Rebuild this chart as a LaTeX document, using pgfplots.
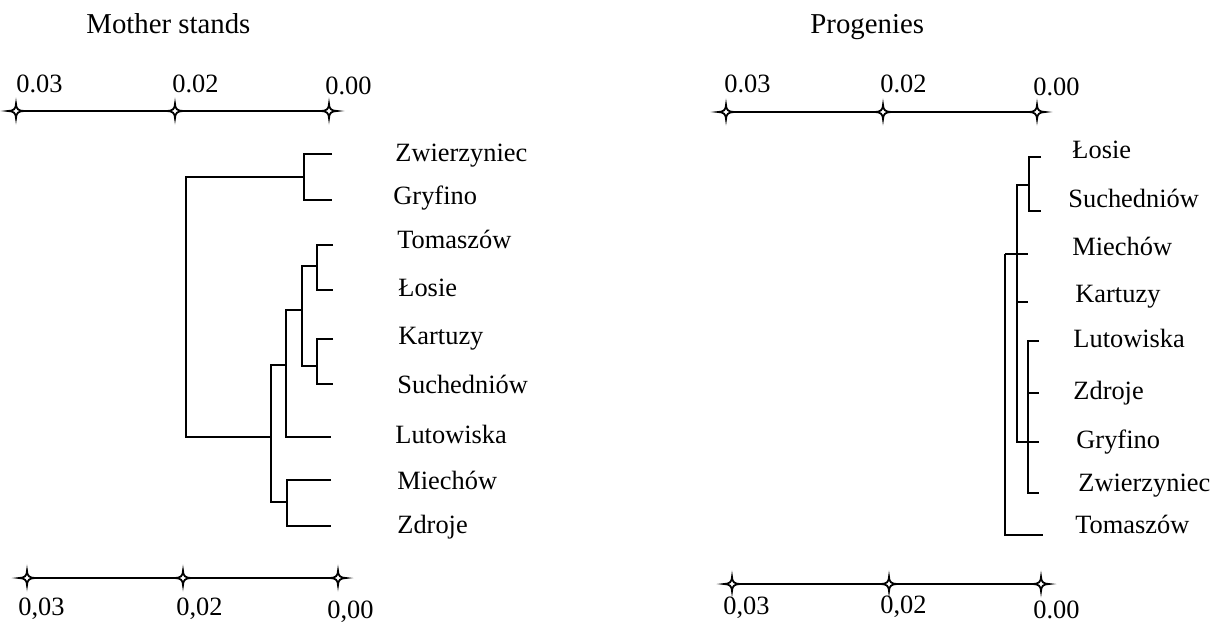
\documentclass[border=0pt]{standalone}
\usepackage{fontspec}
\setmainfont{Liberation Serif}
\usepackage{pgfplots}
\pgfplotsset{compat=1.18}
\pgfdeclareplotmark{spark}{%
  \pgfpathmoveto{\pgfqpoint{\pgfplotmarksize}{0pt}}%
  \pgfpathcurveto{\pgfqpoint{0.3\pgfplotmarksize}{0pt}}{\pgfqpoint{0pt}{0.3\pgfplotmarksize}}{\pgfqpoint{0pt}{0.9\pgfplotmarksize}}%
  \pgfpathcurveto{\pgfqpoint{0pt}{0.3\pgfplotmarksize}}{\pgfqpoint{-0.3\pgfplotmarksize}{0pt}}{\pgfqpoint{-\pgfplotmarksize}{0pt}}%
  \pgfpathcurveto{\pgfqpoint{-0.3\pgfplotmarksize}{0pt}}{\pgfqpoint{0pt}{-0.3\pgfplotmarksize}}{\pgfqpoint{0pt}{-0.9\pgfplotmarksize}}%
  \pgfpathcurveto{\pgfqpoint{0pt}{-0.3\pgfplotmarksize}}{\pgfqpoint{0.3\pgfplotmarksize}{0pt}}{\pgfqpoint{\pgfplotmarksize}{0pt}}%
  \pgfpathclose
  \pgfusepathqfillstroke
}
\begin{document}
\begin{tikzpicture}
\begin{axis}[scale only axis, width=606.5pt, height=313pt,
  xmin=0, xmax=1213, ymin=0, ymax=626, y dir=reverse,
  hide axis, clip=false,
  dl/.style={black, line width=1pt, mark=none, solid},
  scalebar/.style={black, line width=1pt, solid, mark=spark, mark size=4pt,
    mark options={fill=white, draw=black, line width=0.9pt}}]
\path (rel axis cs:0,0) rectangle (rel axis cs:1,1);
% ---------- Left dendrogram (Mother stands)
\addplot[dl] coordinates {(332,154) (304,154) (304,200) (332,200)};
\addplot[dl] coordinates {(304,177) (186,177) (186,437) (271,437)};
\addplot[dl] coordinates {(333,245) (317,245) (317,290) (333,290)};
\addplot[dl] coordinates {(333,339) (317,339) (317,384) (333,384)};
\addplot[dl] coordinates {(317,266) (302,266) (302,366) (317,366)};
\addplot[dl] coordinates {(302,310) (286,310) (286,437) (331,437)};
\addplot[dl] coordinates {(286,365) (271,365) (271,502) (287,502)};
\addplot[dl] coordinates {(331,480) (287,480) (287,526) (331,526)};
% ---------- Right dendrogram (Progenies)
\addplot[dl] coordinates {(1041,157) (1029,157) (1029,211) (1041,211)};
\addplot[dl] coordinates {(1029,185) (1017,185) (1017,442) (1039,442)};
\addplot[dl] coordinates {(1005,254) (1028,254)};
\addplot[dl] coordinates {(1017,302) (1028,302)};
\addplot[dl] coordinates {(1039,341) (1028,341) (1028,493) (1039,493)};
\addplot[dl] coordinates {(1028,393) (1039,393)};
\addplot[dl] coordinates {(1005,254) (1005,535) (1043,535)};
% ---------- Scale bars
\addplot[scalebar] coordinates {(16,111) (175,111) (329,111)};
\addplot[scalebar] coordinates {(27,578) (183,578) (338,578)};
\addplot[scalebar] coordinates {(726,112) (883,112) (1037,112)};
\addplot[scalebar] coordinates {(732,584) (889,584) (1041,584)};
% ---------- Titles
\tikzset{lab/.style={anchor=base west, inner sep=0pt, font=\fontsize{13.2}{15}\selectfont},
         ttl/.style={anchor=base west, inner sep=0pt, font=\fontsize{14.4}{17}\selectfont}}
\node[ttl] at (axis cs:86,34) {Mother stands};
\node[ttl] at (axis cs:810,34) {Progenies};
% ---------- Scale labels
\node[lab] at (axis cs:16,92) {0.03};
\node[lab] at (axis cs:172,92) {0.02};
\node[lab] at (axis cs:325,95) {0.00};
\node[lab] at (axis cs:724,92) {0.03};
\node[lab] at (axis cs:880,92) {0.02};
\node[lab] at (axis cs:1033,96) {0.00};
\node[lab] at (axis cs:18,615) {0,03};
\node[lab] at (axis cs:176,615) {0,02};
\node[lab] at (axis cs:327,618) {0,00};
\node[lab] at (axis cs:723,614) {0,03};
\node[lab] at (axis cs:880,613) {0,02};
\node[lab] at (axis cs:1033,618) {0.00};
% ---------- Leaf labels left
\node[lab] at (axis cs:395,161) {Zwierzyniec};
\node[lab] at (axis cs:393,204) {Gryfino};
\node[lab] at (axis cs:397,248) {Tomaszów};
\node[lab] at (axis cs:398,296) {Łosie};
\node[lab] at (axis cs:398,344) {Kartuzy};
\node[lab] at (axis cs:397,393) {Suchedniów};
\node[lab] at (axis cs:395,443) {Lutowiska};
\node[lab] at (axis cs:397,489) {Miechów};
\node[lab] at (axis cs:397,533) {Zdroje};
% ---------- Leaf labels right
\node[lab] at (axis cs:1072,158) {Łosie};
\node[lab] at (axis cs:1068,207) {Suchedniów};
\node[lab] at (axis cs:1072,255) {Miechów};
\node[lab] at (axis cs:1075,302) {Kartuzy};
\node[lab] at (axis cs:1073,347) {Lutowiska};
\node[lab] at (axis cs:1073,399) {Zdroje};
\node[lab] at (axis cs:1076,448) {Gryfino};
\node[lab] at (axis cs:1078,491) {Zwierzyniec};
\node[lab] at (axis cs:1075,533) {Tomaszów};
\end{axis}
\end{tikzpicture}
\end{document}
